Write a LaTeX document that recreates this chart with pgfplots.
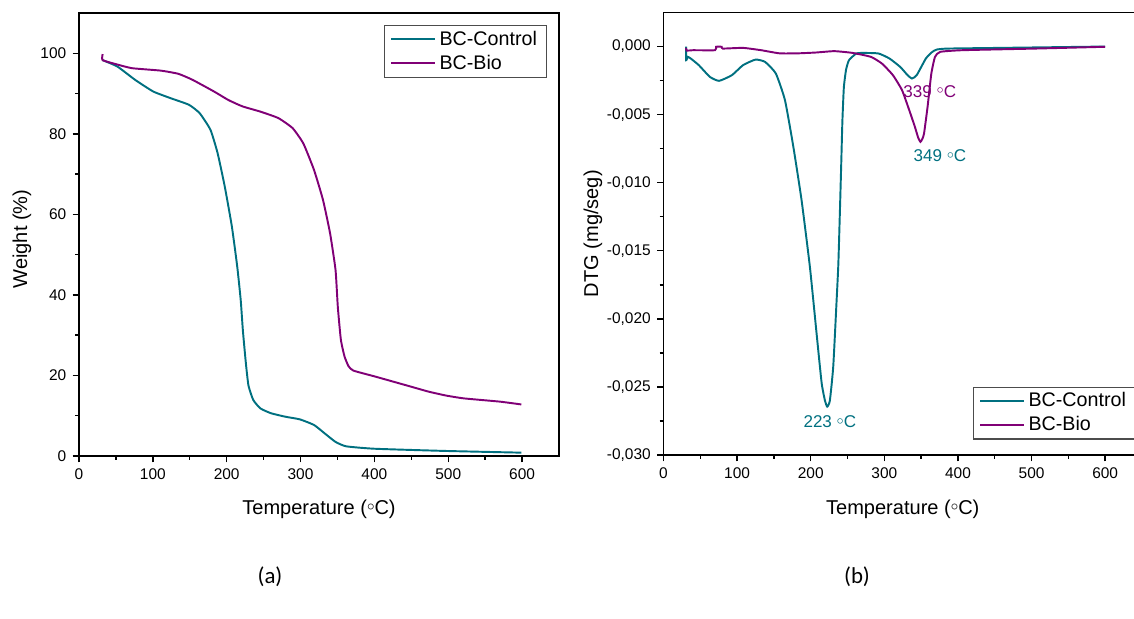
\documentclass[border=0pt]{standalone}
\usepackage{fontspec}
\setmainfont{Liberation Sans}
\newfontfamily\capfont{Carlito}
\usepackage{pgfplots}
\pgfplotsset{compat=1.18}

\definecolor{ctrl}{RGB}{0,112,128}
\definecolor{bio}{RGB}{128,0,118}
\newcommand{\degc}{\raisebox{0.35ex}{$\scriptstyle\circ$}C}

\pgfplotsset{
  tga/.style={
    scale only axis,
    xmin=0, xmax=650,
    xtick={0,100,...,600},
    minor x tick num=1,
    minor y tick num=1,
    xtick pos=bottom, ytick pos=left,
    tick align=outside,
    major tick length=1.3mm, minor tick length=0.8mm,
    every tick/.style={line width=0.8pt, black},
    axis line style={line width=0.9pt},
    /pgf/number format/assume math mode=true,
    tick label style={font=\fontsize{8.8}{10}\selectfont},
    label style={font=\fontsize{11.4}{13}\selectfont},
    legend style={draw=black!70, line width=0.6pt,
      font=\fontsize{11.2}{13.6}\selectfont, inner xsep=1.2mm, inner ysep=0.4mm},
    legend cell align=left,
    legend image code/.code={\draw[#1, line width=1.1pt] (0mm,0mm) -- (8.8mm,0mm);},
    every axis plot/.append style={line width=1.1pt, smooth, tension=0.3},
  }
}

\begin{document}
\begin{tikzpicture}
\useasboundingbox (0,0) rectangle (226.8mm,123.8mm);

% (a) TG
\begin{axis}[tga,
    at={(15.8mm,32.6mm)}, anchor=south west,
    width=96mm, height=88.6mm,
    ymin=0, ymax=110,
    ytick={0,20,...,100},
    xlabel={Temperature (\degc)},
    ylabel={Weight (\%)},
    xlabel style={at={(axis description cs:0.5,-0.12)}, anchor=center},
    ylabel style={at={(axis description cs:-0.119,0.49)}, anchor=center},
    legend style={at={(0.975,0.973)}, anchor=north east},
]
\addplot[ctrl] coordinates {
(31.9,98.3) (52,96.7) (76,93.4) (100.6,90.5) (124.8,88.8) (149,87.2)
(163.5,85.1) (178,81) (187.7,75.2) (197.4,66.9) (207,57) (214.3,47)
(219,38.7) (222,31) (226,23) (229.5,17.5) (236,13.9) (245.8,11.8)
(260.3,10.6) (279.6,9.75) (299,9.1) (318.3,7.7) (332.8,5.6) (347.4,3.5)
(361.9,2.4) (400.6,1.8) (497,1.25) (599,0.83)
};
\addlegendentry{BC-Control}
\addplot[bio] coordinates {
(32,99.8) (32,98.3) (50,97.3) (71.6,96.3) (110.3,95.7) (134.5,94.9)
(153.8,93.4) (182.9,90.5) (202.2,88.4) (221.6,86.8) (245.8,85.5)
(270,83.9) (289.3,81.4) (303.8,77.6) (318.3,71) (330.4,63.6) (340,55.3)
(347.4,46.2) (350.5,37) (354.6,28.9) (359.5,24.75) (365,22.3) (371.6,21.2)
(400.6,19.75) (424.8,18.5) (449,17.25) (473,16) (497.3,15) (521.5,14.3)
(569.9,13.5) (599,12.8)
};
\addlegendentry{BC-Bio}
\end{axis}

% (b) DTG
\begin{axis}[tga,
    at={(132.7mm,32.8mm)}, anchor=south west,
    width=95.7mm, height=88.5mm,
    ymin=-0.030, ymax=0.0025,
    ytick={-0.030,-0.025,-0.020,-0.015,-0.010,-0.005,0},
    scaled y ticks=false,
    yticklabel style={/pgf/number format/.cd, fixed, fixed zerofill,
      precision=3, use comma},
    xlabel={Temperature (\degc)},
    ylabel={DTG (mg/seg)},
    xlabel style={at={(axis description cs:0.5,-0.122)}, anchor=center},
    ylabel style={at={(axis description cs:-0.1476,0.5)}, anchor=center},
    legend style={at={(0.646,0.035)}, anchor=south west},
]
\addplot[ctrl] coordinates {
(30.8,0.0000) (30.8,-0.0010) (33,-0.00076) (37,-0.00088) (48,-0.00137)
(63,-0.00223) (75.5,-0.00252) (93,-0.0021) (108,-0.00137) (125,-0.00096)
(138,-0.00113) (152.6,-0.00198) (165,-0.00394) (176.2,-0.0073)
(187.6,-0.0113) (198.9,-0.0162) (208,-0.0211) (214.8,-0.0247)
(219.3,-0.0260) (222.4,-0.02645) (226,-0.0260) (230.6,-0.0235)
(235.2,-0.0186) (237.5,-0.0160) (239.7,-0.0120) (241.5,-0.0085)
(243,-0.0055) (245,-0.0030) (248,-0.0017) (252,-0.0010) (262,-0.00051)
(272,-0.00047) (292,-0.00051) (307,-0.00088) (321.6,-0.0015)
(331.5,-0.0021) (337.5,-0.00235) (344,-0.0021) (356.4,-0.00088)
(365,-0.0004) (371.3,-0.00022) (386,-0.00015) (455.8,-0.0001) (600,0.0)
};
\addlegendentry{BC-Control}
\addplot[bio] coordinates {
(30.8,-0.00010) (31.5,-0.00030) (40,-0.00027) (70,-0.00027) (71.5,-0.00002)
(79,-0.00002) (80.5,-0.00015) (108,-0.00010) (132.7,-0.00027)
(157.6,-0.00050) (182.4,-0.00050) (207,-0.00044) (232,-0.00034)
(257,-0.00047) (281.8,-0.00076) (296.7,-0.00125) (311.6,-0.0021)
(324,-0.0032) (334,-0.0047) (341.5,-0.0059) (346,-0.0067) (349,-0.0070)
(351.5,-0.0068) (353.9,-0.0064) (358.8,-0.0044) (363.8,-0.0020)
(368.8,-0.00076) (376,-0.00039) (406,-0.00027) (505,-0.00015) (600,-0.00002)
};
\addlegendentry{BC-Bio}
\node[bio, font=\fontsize{9.7}{11}\selectfont] at (axis cs:361.7,-0.00328) {339 \degc};
\node[ctrl, font=\fontsize{9.7}{11}\selectfont] at (axis cs:375.5,-0.00803) {349 \degc};
\node[ctrl, font=\fontsize{9.7}{11}\selectfont] at (axis cs:226,-0.02755) {223 \degc};
\end{axis}

\node[font=\capfont\fontsize{13}{15}\selectfont] at (54mm,8.4mm) {(a)};
\node[font=\capfont\fontsize{13}{15}\selectfont] at (171.4mm,8.4mm) {(b)};
\end{tikzpicture}
\end{document}
